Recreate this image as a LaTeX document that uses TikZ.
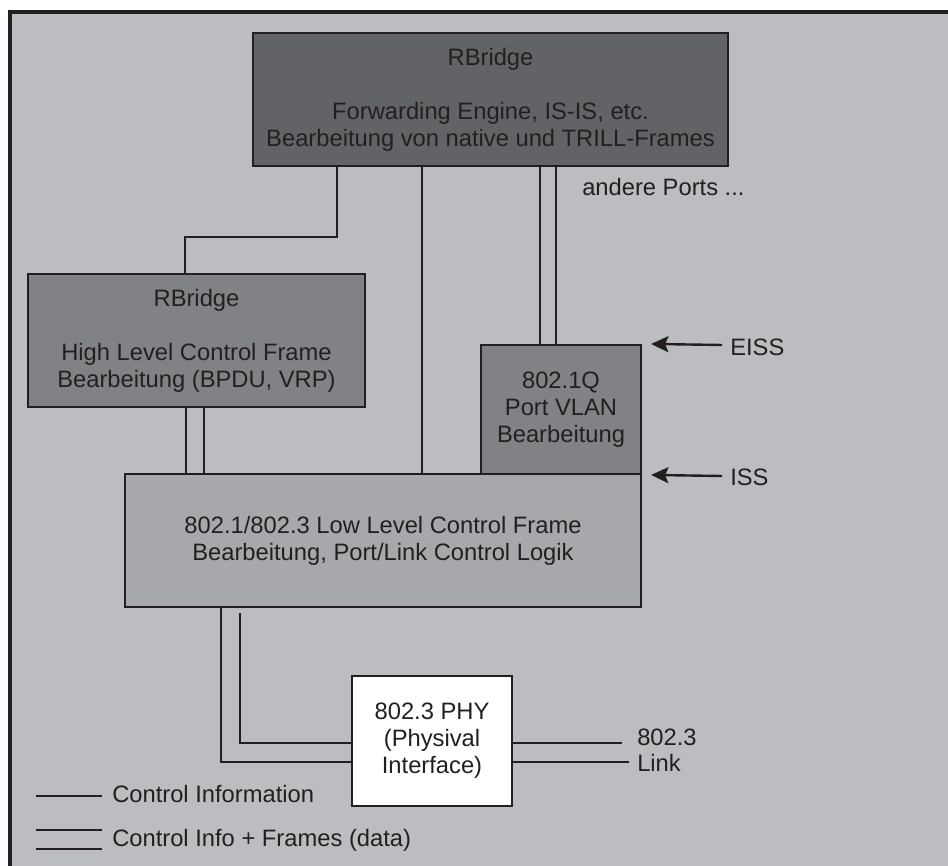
\documentclass[tikz,border=0pt]{standalone}
\usepackage{fontspec}
\setmainfont{Liberation Sans}
\usetikzlibrary{arrows.meta}
\definecolor{bgc}{HTML}{BCBDC0}
\definecolor{topc}{HTML}{626366}
\definecolor{midc}{HTML}{818286}
\definecolor{lowc}{HTML}{A7A8AB}
\definecolor{linec}{HTML}{231F20}
\newcommand\diagfont{\fontsize{17.8}{20.3}\selectfont}
\tikzset{
  box/.style={draw=linec, line width=1.6pt, inner sep=0pt, align=center, font=\diagfont, text=linec},
  ctl/.style={draw=linec, line width=1.6pt},
  arr/.style={draw=linec, line width=1.8pt, -{Stealth[length=13pt,width=12pt,inset=2.5pt]}},
  lbl/.style={font=\diagfont, inner sep=0pt, anchor=base west, text=linec},
}
\begin{document}
\begin{tikzpicture}[x=0.75pt,y=-0.75pt]
\useasboundingbox (0,0) rectangle (948,866);
\fill[white] (0,0) rectangle (948,866);
\begin{scope}
\clip (0,0) rectangle (948,866);
\draw[draw=linec, line width=2.3pt, fill=bgc] (10,12) rectangle (962,882);
\end{scope}

% boxes
\node[box, fill=topc, minimum width=356.25pt, minimum height=99.75pt] (top) at (490.5,99.5)
  {RBridge\\[20.3pt]Forwarding Engine, IS-IS, etc.\\Bearbeitung von native und TRILL-Frames};
\node[box, fill=midc, minimum width=252.75pt, minimum height=99.75pt] (hl) at (196.5,340.5)
  {RBridge\\[20.3pt]High Level Control Frame\\Bearbeitung (BPDU, VRP)};
\node[box, fill=midc, minimum width=120pt, minimum height=96.75pt] (vlan) at (561,409.5)
  {802.1Q\\Port VLAN\\Bearbeitung};
\node[box, fill=lowc, minimum width=387pt, minimum height=99.75pt] (ll) at (383,540.5)
  {802.1/802.3 Low Level Control Frame\\Bearbeitung, Port/Link Control Logik};
\node[box, fill=white, minimum width=120pt, minimum height=97.5pt] (phy) at (432,741)
  {802.3 PHY\\(Physival\\Interface)};

% connectors
\draw[ctl] (337,0 |- top.south) |- (185,237) -- (185,0 |- hl.north);
\draw[ctl] (422,0 |- top.south) -- (422,0 |- ll.north);
\draw[ctl] (540,0 |- top.south) -- (540,0 |- vlan.north);
\draw[ctl] (556,0 |- top.south) -- (556,0 |- vlan.north);
\draw[ctl] (186,0 |- hl.south) -- (186,0 |- ll.north);
\draw[ctl] (204,0 |- hl.south) -- (204,0 |- ll.north);
\draw[ctl] (221,0 |- ll.south) |- (phy.west |- 0,762);
\draw[ctl] ([yshift=-3.75pt]240,0 |- ll.south) |- (phy.west |- 0,743);
\coordinate (lk1) at (622,743);
\coordinate (lk2) at (629,762);
\draw[ctl] (phy.east |- lk1) -- (lk1);
\draw[ctl] (phy.east |- lk2) -- (lk2);

% labels
\node[lbl] (ports) at (582,196) {andere Ports ...};
\node[lbl] (eiss) at (730,355) {EISS};
\node[lbl] (iss) at (730,485) {ISS};
\node[lbl] (lnka) at (637,745) {802.3};
\node[lbl] (lnkb) at (637,771) {Link};
\coordinate (eissA) at (722,345);
\coordinate (issA) at (722,476);
\draw[arr] (eissA) -- ([xshift=6.75pt]vlan.north east);
\draw[arr] (issA) -- ([xshift=6.75pt,yshift=-1.5pt]ll.north east);

% legend
\coordinate (la) at (36,796);
\coordinate (lb) at (102,796);
\draw[ctl] (la) -- (lb);
\node[lbl] (leg1) at (112,802) {Control Information};
\coordinate (lc) at (36,830);
\coordinate (ld) at (102,830);
\coordinate (le) at (36,849);
\coordinate (lf) at (102,849);
\draw[ctl] (lc) -- (ld);
\draw[ctl] (le) -- (lf);
\node[lbl] (leg2) at (112,846) {Control Info + Frames (data)};
\end{tikzpicture}
\end{document}
